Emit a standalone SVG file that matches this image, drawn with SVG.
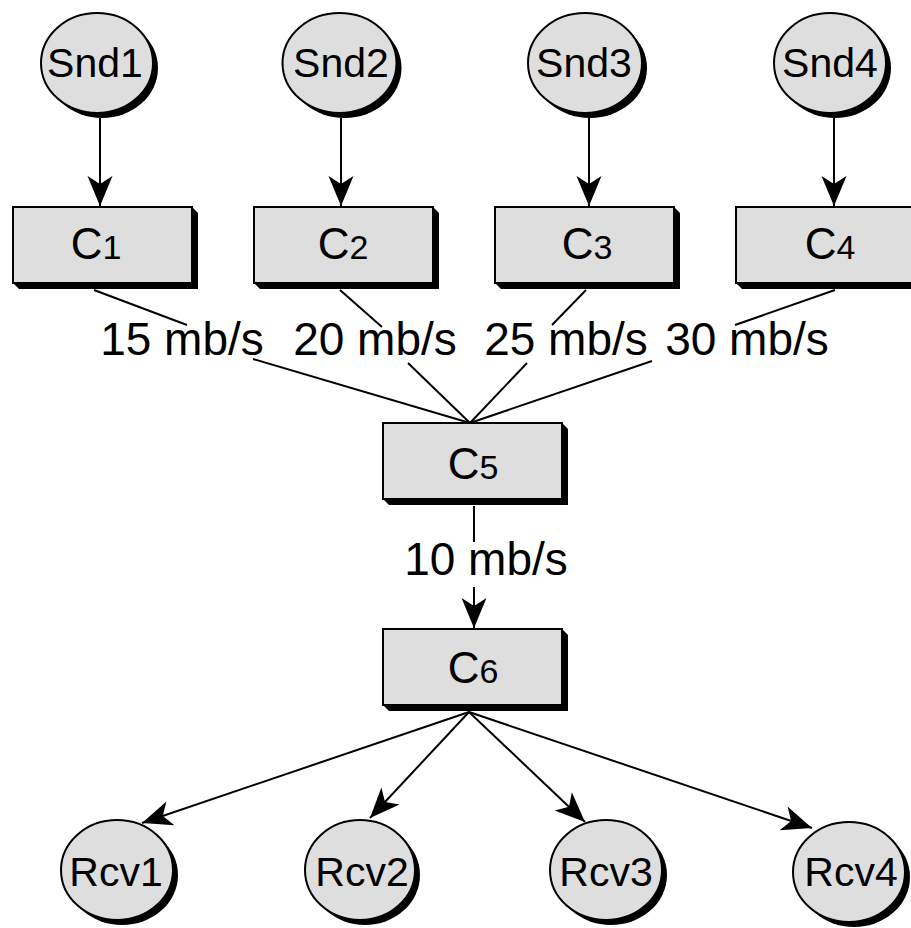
<svg xmlns="http://www.w3.org/2000/svg" width="911" height="928" viewBox="0 0 911 928">
  <style>
    .shadow { fill: #000; }
    .body { fill: #dedede; stroke: #000; stroke-width: 2; }
    .lbl { font-family: "Liberation Sans", Arial, sans-serif; fill: #000; text-anchor: middle; }
    .end { font-size: 41px; }
    .ch { font-size: 44px; }
    .sub { font-size: 34px; }
    .rate { font-size: 46px; }
    .wire { fill: none; stroke: #000; stroke-width: 2; }
    .arr { marker-end: url(#ah); }
  </style>
  <defs>
    <marker id="ah" markerUnits="userSpaceOnUse" viewBox="-32 -14 33 28" refX="0" refY="0" markerWidth="33" markerHeight="28" orient="auto">
      <path d="M0,0 L-30,-12.5 L-22,0 L-30,12.5 Z" fill="#000"/>
    </marker>
  </defs>
  <rect width="911" height="928" fill="#fff"/>

  <!-- senders -->
  <g id="snd1"><ellipse class="shadow" cx="102" cy="68" rx="56" ry="50"/><ellipse class="body" cx="97" cy="63" rx="56" ry="50"/><text class="lbl end" x="95" y="77">Snd1</text></g>
  <g id="snd2"><ellipse class="shadow" cx="344.5" cy="68" rx="57" ry="50"/><ellipse class="body" cx="339.5" cy="63" rx="57" ry="50"/><text class="lbl end" x="341" y="77">Snd2</text></g>
  <g id="snd3"><ellipse class="shadow" cx="590" cy="68" rx="57" ry="50"/><ellipse class="body" cx="585" cy="63" rx="57" ry="50"/><text class="lbl end" x="584" y="77">Snd3</text></g>
  <g id="snd4"><ellipse class="shadow" cx="835" cy="68" rx="56" ry="50"/><ellipse class="body" cx="830" cy="63" rx="56" ry="50"/><text class="lbl end" x="830" y="77">Snd4</text></g>

  <!-- channels -->
  <g id="c1"><path class="shadow" d="M192,207 L198,213 L198,289 L19,289 L13,283 Z"/><rect class="body" x="13" y="207" width="179" height="76"/><text class="lbl ch" x="96" y="259">C<tspan class="sub">1</tspan></text></g>
  <g id="c2"><path class="shadow" d="M433,207 L439,213 L439,289 L260,289 L254,283 Z"/><rect class="body" x="254" y="207" width="179" height="76"/><text class="lbl ch" x="343" y="259">C<tspan class="sub">2</tspan></text></g>
  <g id="c3"><path class="shadow" d="M674,207 L680,213 L680,289 L501,289 L495,283 Z"/><rect class="body" x="495" y="207" width="179" height="76"/><text class="lbl ch" x="587" y="259">C<tspan class="sub">3</tspan></text></g>
  <g id="c4"><path class="shadow" d="M915,207 L921,213 L921,289 L742,289 L736,283 Z"/><rect class="body" x="736" y="207" width="179" height="76"/><text class="lbl ch" x="830" y="259">C<tspan class="sub">4</tspan></text></g>
  <g id="c5"><path class="shadow" d="M562,423 L568,429 L568,505 L389,505 L383,499 Z"/><rect class="body" x="383" y="423" width="179" height="76"/><text class="lbl ch" x="473" y="479">C<tspan class="sub">5</tspan></text></g>
  <g id="c6"><path class="shadow" d="M562,629 L568,635 L568,711 L389,711 L383,705 Z"/><rect class="body" x="383" y="629" width="179" height="76"/><text class="lbl ch" x="473" y="683">C<tspan class="sub">6</tspan></text></g>

  <!-- receivers -->
  <g id="rcv1"><ellipse class="shadow" cx="122" cy="875" rx="56" ry="50"/><ellipse class="body" cx="117" cy="870" rx="56" ry="50"/><text class="lbl end" x="116" y="886">Rcv1</text></g>
  <g id="rcv2"><ellipse class="shadow" cx="365" cy="875" rx="55" ry="50"/><ellipse class="body" cx="360" cy="870" rx="55" ry="50"/><text class="lbl end" x="362" y="886">Rcv2</text></g>
  <g id="rcv3"><ellipse class="shadow" cx="611" cy="875" rx="56" ry="50"/><ellipse class="body" cx="606" cy="870" rx="56" ry="50"/><text class="lbl end" x="606" y="886">Rcv3</text></g>
  <g id="rcv4"><ellipse class="shadow" cx="854" cy="877" rx="56" ry="50"/><ellipse class="body" cx="849" cy="872" rx="56" ry="50"/><text class="lbl end" x="851" y="886">Rcv4</text></g>

  <!-- connectors -->
  <g id="connectors">
    <line class="wire arr" x1="100" y1="118" x2="100" y2="206"/>
    <line class="wire arr" x1="341" y1="118" x2="341" y2="206"/>
    <line class="wire arr" x1="589" y1="118" x2="589" y2="206"/>
    <line class="wire arr" x1="834" y1="118" x2="834" y2="206"/>

    <line class="wire" x1="94" y1="290" x2="187" y2="325"/>
    <line class="wire" x1="253" y1="359" x2="470" y2="423"/>
    <line class="wire" x1="340" y1="290" x2="382" y2="327"/>
    <line class="wire" x1="408" y1="363" x2="470" y2="423"/>
    <line class="wire" x1="586" y1="290" x2="552" y2="325"/>
    <line class="wire" x1="527" y1="363" x2="470" y2="423"/>
    <line class="wire" x1="835" y1="290" x2="735" y2="325"/>
    <line class="wire" x1="652" y1="361" x2="470" y2="423"/>

    <line class="wire" x1="474" y1="506" x2="474" y2="542"/>
    <line class="wire arr" x1="474" y1="587" x2="474" y2="628"/>

    <line class="wire arr" x1="469" y1="712" x2="142" y2="823"/>
    <line class="wire arr" x1="469" y1="712" x2="370" y2="818"/>
    <line class="wire arr" x1="469" y1="712" x2="585" y2="822"/>
    <line class="wire arr" x1="469" y1="712" x2="812" y2="828"/>

    <text class="lbl rate" x="182" y="355">15 mb/s</text>
    <text class="lbl rate" x="375" y="355">20 mb/s</text>
    <text class="lbl rate" x="566" y="355">25 mb/s</text>
    <text class="lbl rate" x="747" y="355">30 mb/s</text>
    <text class="lbl rate" x="486" y="575">10 mb/s</text>
  </g>
</svg>
